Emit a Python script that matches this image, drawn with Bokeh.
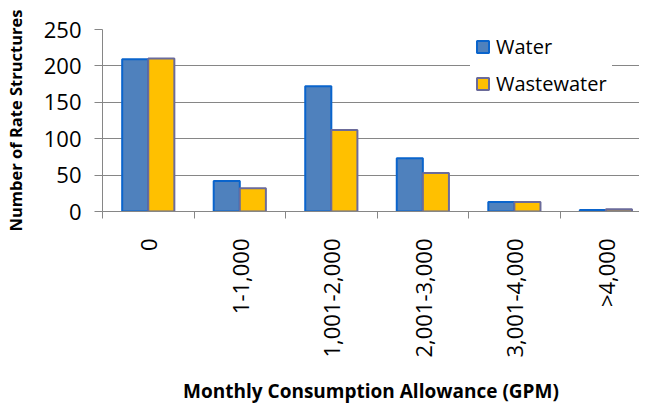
import numpy as np
from bokeh.plotting import figure
from bokeh.models import ColumnDataSource, Range1d, FixedTicker, Legend, LegendItem
from bokeh.embed import file_html
from bokeh.resources import INLINE

categories = ["0", "1-1,000", "1,001-2,000", "2,001-3,000", "3,001-4,000", ">4,000"]
water = [209, 42, 172, 73, 13, 2]
wastewater = [210, 32, 112, 53, 13, 3]
y_ticks = [0, 50, 100, 150, 200, 250]

centers = np.arange(len(categories)) + 0.5
bar_w = 0.285

src = ColumnDataSource(dict(
    xw=centers - bar_w / 2, xs=centers + bar_w / 2,
    water=water, wastewater=wastewater))

p = figure(width=639, height=406, output_backend="svg", toolbar_location=None,
           x_range=Range1d(0, 5.867), y_range=Range1d(0, 250),
           min_border_left=101, min_border_top=29, min_border_right=0,
           min_border_bottom=194)
p.outline_line_color = None
p.background_fill_color = "white"
p.border_fill_color = "white"

rw = p.vbar(x="xw", top="water", width=bar_w, source=src,
            fill_color="#4F81BD", line_color="#0A64CC", line_width=2)
rs = p.vbar(x="xs", top="wastewater", width=bar_w, source=src,
            fill_color="#FFC000", line_color="#6B6B9A", line_width=2)

# grid
p.xgrid.grid_line_color = None
p.ygrid.grid_line_color = "#868686"
p.ygrid.grid_line_width = 1

# x axis
p.xaxis.ticker = FixedTicker(ticks=list(centers),
                             minor_ticks=list(range(len(categories) + 1)))
p.xaxis.major_label_overrides = {float(c): lab for c, lab in zip(centers, categories)}
p.xaxis.major_label_orientation = np.pi / 2
p.xaxis.major_tick_out = 0
p.xaxis.major_tick_in = 0
p.xaxis.minor_tick_out = 7
p.xaxis.minor_tick_in = 0
p.xaxis.minor_tick_line_color = "#868686"
p.xaxis.axis_line_color = "#868686"
p.xaxis.major_label_standoff = 20
p.xaxis.major_label_text_font = "Open Sans"
p.xaxis.major_label_text_font_size = "22px"
p.xaxis.major_label_text_color = "black"
p.xaxis.axis_label = "Monthly Consumption Allowance (GPM)"
p.xaxis.axis_label_text_font = "Open Sans"
p.xaxis.axis_label_text_font_style = "bold"
p.xaxis.axis_label_text_font_size = "19px"
p.xaxis.axis_label_text_color = "black"
p.xaxis.axis_label_standoff = 17

# y axis
p.yaxis.ticker = FixedTicker(ticks=y_ticks)
p.yaxis.minor_tick_line_color = None
p.yaxis.major_tick_out = 8
p.yaxis.major_tick_in = 0
p.yaxis.major_tick_line_color = "#868686"
p.yaxis.axis_line_color = "#868686"
p.yaxis.major_label_standoff = 13
p.yaxis.major_label_text_font = "Open Sans"
p.yaxis.major_label_text_font_size = "22px"
p.yaxis.major_label_text_color = "black"
p.yaxis.axis_label = "Number of Rate Structures"
p.yaxis.axis_label_text_font = "Open Sans"
p.yaxis.axis_label_text_font_style = "bold"
p.yaxis.axis_label_text_font_size = "16.5px"
p.yaxis.axis_label_text_color = "black"
p.yaxis.axis_label_standoff = 14

legend = Legend(items=[LegendItem(label="Water", renderers=[rw]),
                       LegendItem(label="Wastewater", renderers=[rs])],
                location=(368, 109))
legend.border_line_alpha = 0
legend.background_fill_color = "white"
legend.background_fill_alpha = 1
legend.label_text_font = "Open Sans"
legend.label_text_font_size = "20px"
legend.label_text_color = "black"
legend.glyph_width = 15
legend.glyph_height = 15
legend.label_height = 20
legend.spacing = 10
legend.padding = 5
legend.margin = 0
legend.label_standoff = 6
p.add_layout(legend)

open("out.html", "w").write(file_html(p, INLINE))
